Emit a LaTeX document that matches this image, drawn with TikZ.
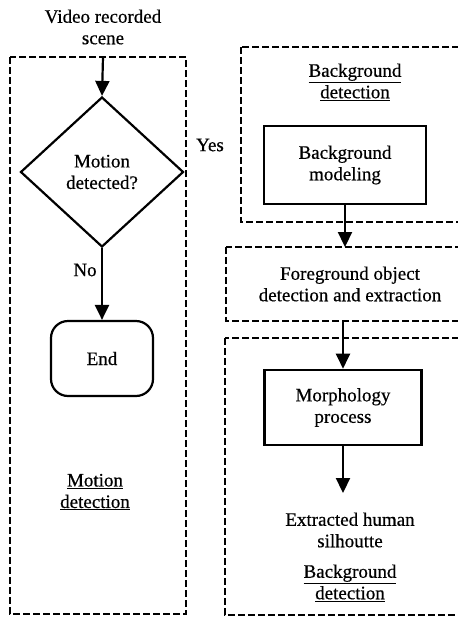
\documentclass[tikz,border=0pt]{standalone}
\usepackage{fontspec}
\setmainfont{Liberation Serif}[FakeBold=0.5]
\usetikzlibrary{shapes.geometric,arrows.meta}
\begin{document}
\begin{tikzpicture}[x=1pt,y=-1pt,
  every node/.style={font=\fontsize{19}{21.5}\selectfont, align=center, inner sep=0pt},
  dbox/.style={draw, line width=2pt, dash pattern=on 7pt off 3pt},
  sbox/.style={draw, line width=2.6pt, rectangle},
  flow/.style={line width=2.2pt, -{Triangle[width=14pt,length=15pt]}}]
\useasboundingbox (0,0) rectangle (458,619);
\clip (0,0) rectangle (458,619);
\fill[white] (0,0) rectangle (458,619);
% left column
\node (title) at (103,27) {Video recorded\\scene};
\draw[dbox] (10,57) rectangle (186,614);
\coordinate (lefttop) at (103,57);
\node[draw, diamond, line width=2.2pt, minimum width=163pt, minimum height=150pt] (dec) at (102,172) {Motion\\detected?};
\node[draw, line width=2.2pt, rounded corners=17pt, minimum width=102pt, minimum height=75pt] (endn) at (102,358.5) {End};
\node (no) at (85,270) {No};
\node (motdet) at (95,492) {\underline{Motion}\\\underline{detection}};
\draw[flow] (lefttop) -- (dec.north);
\draw[flow] (dec.south) -- (endn.north);
% right column
\node (yes) at (210,145) {Yes};
\draw[dbox] (241,47) rectangle (480,222);
\node (bgdet) at (355,82) {\underline{Background}\\\underline{detection}};
\node[sbox, minimum width=162pt, minimum height=78pt] (bgmod) at (345,165) {Background\\modeling};
\draw[dbox] (226,247) rectangle (480,321);
\coordinate (fgtop) at (343,247);
\coordinate (fgbot) at (343,321);
\node (fg) at (350,284) {Foreground object\\detection and extraction};
\draw[dbox] (225,338) rectangle (480,615);
\node[sbox, minimum width=157pt, minimum height=75pt] (morph) at (343,407.5) {Morphology\\process};
\coordinate (outtip) at (343,493);
\node (extr) at (350,530) {Extracted human\\silhoutte};
\node (bgdet2) at (350,583) {\underline{Background}\\\underline{detection}};
\draw[flow] (bgmod.south) -- (bgmod.south |- fgtop);
\draw[flow] (fgbot) -- (morph.north);
\draw[flow] (morph.south) -- (outtip);
\end{tikzpicture}
\end{document}
